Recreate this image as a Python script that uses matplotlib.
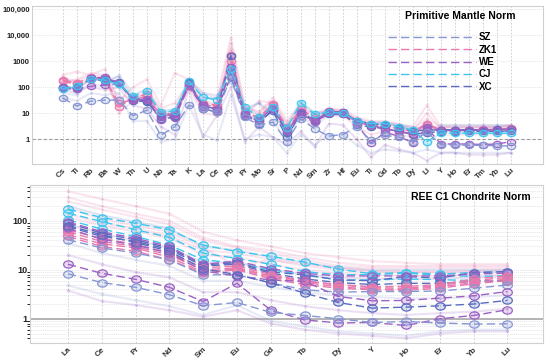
import matplotlib
matplotlib.use('Agg')
import matplotlib.pyplot as plt
import numpy as np
from matplotlib.path import Path
from matplotlib.transforms import Affine2D
from matplotlib.lines import Line2D

plt.rcParams['font.family'] = ['Liberation Sans', 'DejaVu Sans']

#- element lists
pm_elem = ['Cs', 'Tl', 'Rb', 'Ba', 'W', 'Th', 'U', 'Nb', 'Ta', 'K', 'La', 'Ce', 'Pb', 'Pr', 'Mo', 'Sr', 'P',
           'Nd', 'Sm', 'Zr', 'Hf', 'Eu', 'Ti', 'Gd', 'Tb', 'Dy', 'Li', 'Y', 'Ho', 'Er', 'Tm', 'Yb', 'Lu']
ree_elem = ['La', 'Ce', 'Pr', 'Nd', 'Sm', 'Eu', 'Gd', 'Tb', 'Dy', 'Y', 'Ho', 'Er', 'Yb', 'Lu']

#- colours of the groups
c_sz = '#8797d4'
c_zk1 = '#e67aae'
c_we = '#9c62c4'
c_cj = '#3fc6ee'
c_xc = '#5b6cc0'
groups = ['SZ', 'ZK1', 'WE', 'CJ', 'XC']
group_col = [c_sz, c_zk1, c_we, c_cj, c_xc]

#- primitive mantle normalised, single samples (faint)
pm_samples = [
    ([300, 400, 300, 500, 30, 100, 200, 20, 350, 200, 60, 40, 8000, 20, 10, 40, 5, 25, 10, 15, 14, 7, 5, 5, 4, 3, 20, 3, 3, 3, 3, 3, 3.5], c_zk1),
    ([150, 200, 350, 300, 10, 30, 30, 6, 8, 90, 10, 8, 3000, 6, 30, 25, 1.5, 10, 5, 8, 8, 3, 1.5, 2, 1.5, 1.2, 5, 1.5, 1.5, 1.5, 1.5, 1.5, 1.7], c_zk1),
    ([60, 50, 150, 100, 300, 60, 20, 12, 5, 200, 60, 50, 150, 15, 25, 5, 0.9, 8, 3, 9, 8, 6, 3, 4, 3, 2.5, 1.5, 3, 3, 3, 3, 3, 3], c_sz),
    ([120, 80, 100, 80, 100, 20, 15, 3, 1.5, 80, 1.2, 8, 100, 0.8, 3, 1.2, 0.6, 2, 0.5, 4, 3.5, 1, 0.2, 0.6, 0.4, 0.3, 0.15, 0.3, 0.3, 0.25, 0.25, 0.25, 0.3], c_we),
    ([250, 120, 180, 250, 20, 40, 60, 12, 14, 140, 30, 22, 1500, 13, 9, 25, 3.5, 16, 9, 14, 13, 6, 4.5, 4.5, 3.5, 2.5, 6, 3, 3, 3, 3, 3, 3.2], c_zk1),
    ([80, 60, 250, 200, 250, 40, 40, 9, 10, 180, 40, 35, 700, 12, 25, 10, 2, 12, 6, 12, 11, 5, 4, 4, 3.5, 3, 2, 3.5, 3.5, 3.5, 3.5, 3.5, 3.5], c_xc),
    ([200, 150, 220, 180, 15, 50, 40, 10, 12, 100, 15, 12, 2500, 8, 5, 18, 2.5, 9, 6, 10, 10, 4, 3, 3, 2.5, 2, 3, 2.2, 2.2, 2.2, 2.3, 2.4, 2.5], c_zk1),
    ([40, 30, 60, 50, 60, 5, 5, 0.8, 1, 20, 1.5, 0.9, 50, 1, 1.5, 1.2, 0.3, 1.5, 0.6, 1.5, 1.5, 0.6, 0.3, 0.4, 0.35, 0.3, 0.4, 0.3, 0.3, 0.3, 0.3, 0.3, 0.3], c_sz),
    ([80, 100, 200, 180, 100, 50, 80, 12, 14, 200, 45, 35, 900, 20, 8, 15, 3, 30, 10, 12, 11, 5, 4, 4.5, 3.2, 2.5, 0.5, 2, 2, 2, 2, 2, 2], c_cj),
    ([220, 180, 280, 260, 40, 45, 90, 15, 25, 150, 25, 20, 5000, 15, 12, 30, 4, 20, 8, 13, 12, 5.5, 4, 4, 3, 2.2, 10, 2.6, 2.6, 2.6, 2.7, 2.8, 3], c_zk1),
]

#- primitive mantle normalised, group lines (dashed, circles)
pm_means = [
    ([190, 145, 250, 225, 18, 38, 55, 9, 10, 120, 22, 17, 1800, 10, 6, 20, 2.5, 12, 6, 11, 10, 4.5, 3.5, 3.2, 2.6, 1.9, 3.5, 2.2, 2.2, 2.2, 2.3, 2.3, 2.5], c_zk1),
    ([170, 130, 200, 210, 25, 32, 45, 8, 9, 110, 25, 20, 1000, 11, 7, 22, 3, 14, 7, 12, 11, 5, 3.2, 3.5, 2.5, 2, 4, 2.3, 2.3, 2.3, 2.4, 2.4, 2.6], c_zk1),
    ([95, 100, 220, 200, 160, 35, 30, 6, 7, 160, 20, 14, 250, 9, 4, 14, 1.8, 9, 5, 11, 11, 5, 4, 3.5, 2.8, 2.1, 2.2, 2.3, 2.3, 2.3, 2.3, 2.4, 2.5], c_xc),
    ([100, 95, 200, 180, 150, 30, 28, 7, 8, 140, 15, 11, 1600, 8, 5, 12, 1.2, 10, 5.5, 9, 9, 3.5, 3, 2.5, 2, 1.5, 1.8, 1.9, 1.9, 2, 2, 2, 2.1], c_xc),
    ([90, 85, 110, 120, 140, 36, 32, 5.5, 6.5, 110, 18, 12, 600, 8, 6, 15, 2.2, 8, 4.5, 10, 9, 4, 0.7, 1.8, 1.3, 0.7, 2.8, 0.65, 0.65, 0.65, 0.62, 0.65, 0.8], c_we),
    ([100, 90, 230, 240, 150, 33, 35, 8, 9, 130, 20, 15, 400, 9, 5, 18, 2, 11, 5, 12, 11, 4.5, 3.5, 2.5, 2, 1.6, 3, 2.2, 2.1, 2.2, 2.2, 2.3, 2.5], c_we),
    ([85, 110, 210, 190, 130, 45, 70, 11, 12, 170, 42, 32, 500, 17, 7, 17, 2.6, 25, 9, 11, 10, 5, 4, 4, 3, 2.2, 0.8, 1.7, 1.7, 1.7, 1.7, 1.7, 1.7], c_cj),
    ([38, 19, 29, 32, 32, 8, 13, 1.4, 3, 20, 15, 11, 230, 7, 3.5, 4.5, 0.8, 6, 2.5, 1.3, 1.5, 3, 0.9, 1.4, 1.2, 0.8, 1.9, 0.6, 0.6, 0.58, 0.58, 0.55, 0.55], c_sz),
]

#- C1 chondrite normalised, single samples (faint)
ree_samples = [
    ([400, 280, 200, 140, 60, 40, 30, 22, 18, 15, 14, 13, 13, 13], c_zk1),
    ([300, 200, 140, 100, 45, 30, 25, 18, 14, 12, 12, 12, 12, 12], c_zk1),
    ([250, 170, 120, 85, 40, 28, 22, 16, 12, 11, 11, 11, 11, 11], c_zk1),
    ([200, 130, 95, 70, 30, 25, 18, 14, 11, 10, 10, 10, 10, 10], c_xc),
    ([120, 80, 60, 45, 20, 18, 13, 10, 8.5, 8, 7.5, 7.5, 8, 8], c_zk1),
    ([85, 55, 40, 28, 14, 14, 10, 8, 7, 6.5, 6.5, 6.5, 7, 7.5], c_we),
    ([35, 22, 16, 12, 6, 6, 4.5, 3.5, 3, 2.8, 2.6, 2.6, 2.8, 3], c_sz),
    ([20, 13, 9, 7, 3.5, 3.5, 2.4, 1.8, 1.5, 1.3, 1.2, 1.3, 1.4, 1.6], c_we),
    ([4.8, 3.2, 2.4, 1.8, 1.2, 1.9, 0.9, 0.7, 0.55, 0.5, 0.45, 0.55, 0.6, 0.6], c_sz),
    ([3.8, 2.3, 1.9, 1.5, 1.1, 1.5, 0.8, 0.6, 0.5, 0.45, 0.4, 0.5, 0.55, 0.55], c_we),
    ([180, 110, 80, 60, 28, 12, 16, 12, 10, 9, 9, 9, 9.5, 10], c_zk1),
    ([140, 90, 70, 50, 25, 22, 16, 13, 11, 9.5, 9, 9, 9, 9], c_zk1),
]

#- C1 chondrite normalised, group lines
ree_means = [
    ([174, 117, 89, 66, 32, 23.6, 19, 14.4, 10.3, 8.3, 8.8, 8.2, 8.8, 9.2], c_cj),
    ([144, 97, 66, 46, 22, 17, 13, 9.2, 7.9, 8.0, 8.5, 7.8, 7.3, 7.6], c_cj),
    ([105, 68, 48, 32, 16, 13.7, 10, 7.9, 6.2, 6.2, 6.5, 6.3, 6.0, 6.0], c_cj),
    ([91, 56, 41, 28, 12.6, 14, 9, 7.9, 6.2, 6.0, 7.3, 6.8, 8.8, 9.2], c_xc),
    ([76, 48, 38, 26, 12, 13, 8.5, 6.5, 5.5, 5.0, 5.3, 5.3, 5.8, 6.0], c_xc),
    ([95, 60, 44, 30, 13, 15, 10.5, 8.5, 7.5, 7.5, 7.5, 7.5, 8.2, 8.6], c_we),
    ([65, 44, 33, 22, 11, 12, 8, 6, 5, 4.5, 4.6, 5, 6.5, 7.5], c_zk1),
    ([60, 38, 30, 20, 10, 11, 7.5, 5.8, 4.9, 4.3, 4.2, 4.8, 6, 7.0], c_zk1),
    ([52, 34, 28, 18, 9, 10.5, 7, 5.5, 4.5, 4.0, 4.0, 4.5, 5.5, 6.5], c_zk1),
    ([48, 30, 24, 16, 8.5, 10, 6.5, 5, 4.2, 3.9, 3.8, 4.2, 5.2, 6.0], c_zk1),
    ([41, 28, 22, 16, 7.9, 7.9, 5.4, 3.9, 3.5, 3.6, 3.6, 3.7, 4.2, 4.9], c_sz),
    ([70, 42, 32, 22, 9.5, 7.5, 6.2, 5.8, 2.85, 2.33, 2.37, 2.64, 2.95, 3.6], c_we),
    ([80, 52, 36, 24, 10.5, 8, 5.4, 3.35, 2.15, 1.65, 1.73, 1.84, 2.0, 2.37], c_xc),
    ([13, 8.5, 6.4, 4.4, 2.25, 5.3, 1.5, 0.95, 0.82, 0.84, 0.73, 1.0, 1.17, 1.53], c_we),
    ([8.3, 5.5, 4.4, 3.1, 1.85, 2.15, 1.35, 1.17, 1.0, 0.84, 0.88, 0.82, 0.78, 0.79], c_sz),
]

# slightly wide circle marker
ell = Path.unit_circle().transformed(Affine2D().scale(1.35, 1.0))


def draw_panel(ax, elems, samples, means, ylim, xlim, ms):
    x = np.arange(len(elems))
    for vals, col in samples:
        ax.plot(x, vals, '-', color=col, alpha=0.2, lw=1.5, marker='o', ms=2.5,
                mec='none', zorder=2)
    for vals, col in means:
        ax.plot(x, vals, color=col, lw=1.0, dashes=(6, 3), marker=ell, ms=ms,
                mfc=col + '38', mec=col, mew=0.9, zorder=4)
    ax.set_yscale('log')
    ax.set_ylim(ylim)
    ax.set_xlim(xlim)
    ax.set_xticks(x)
    ax.set_xticklabels(elems, rotation=45, ha='right', rotation_mode='anchor',
                       fontsize=5.8, fontweight='bold', color='#333333')
    ax.tick_params(axis='x', length=0, pad=2)
    ax.tick_params(axis='y', length=0, pad=1.5)
    ax.grid(True, which='major', axis='x', color='#c8c8d0', ls=(0, (2, 2)), lw=0.6)
    ax.grid(True, which='both', axis='y', color='#dcdce0', ls=(0, (1.5, 1.5)), lw=0.5)
    for s in ax.spines.values():
        s.set_color('#d0d0d0')
    ax.set_axisbelow(True)


f = plt.figure(figsize=(5.5, 3.59), dpi=100)

ax1 = f.add_axes([32 / 550, 1 - 164 / 359, 511 / 550, 158 / 359])
draw_panel(ax1, pm_elem, pm_samples, pm_means, (0.11, 136000), (-2.2, 34.3), 6)
ax1.axhline(1, color='#999999', ls=(0, (3, 2)), lw=0.8, zorder=1)
ax1.set_yticks([1, 10, 100, 1000, 10000, 100000])
ax1.set_yticklabels(['1', '10', '100', '1000', '10,000', '100,000'], fontsize=5.5,
                    fontweight='bold', color='#222222')
ax1.text(0.947, 0.937, 'Primitive Mantle Norm', transform=ax1.transAxes, ha='right',
         va='center', fontsize=7.5, fontweight='bold')
handles = [Line2D([0], [0], color=c, lw=1.0, dashes=(6, 3)) for c in group_col]
ax1.legend(handles, groups, loc='upper left', bbox_to_anchor=(0.68, 0.89), frameon=False,
           handlelength=9, handletextpad=0.3, labelspacing=0.25,
           prop={'size': 7, 'weight': 'bold'})

ax2 = f.add_axes([30 / 550, 1 - 343 / 359, 513 / 550, 158 / 359])
draw_panel(ax2, ree_elem, ree_samples, ree_means, (0.32, 540), (-1.12, 14.05), 7)
ax2.axhline(1, color='#a8a8a8', ls='-', lw=1.2, zorder=1)
ax2.set_yticks([1, 10, 100])
ax2.set_yticklabels(['1', '10', '100'], fontsize=6.5, fontweight='bold', color='#222222')
ax2.text(0.975, 0.924, 'REE C1 Chondrite Norm', transform=ax2.transAxes, ha='right',
         va='center', fontsize=7.5, fontweight='bold')

f.savefig('out.png', dpi=100)
plt.close(f)
